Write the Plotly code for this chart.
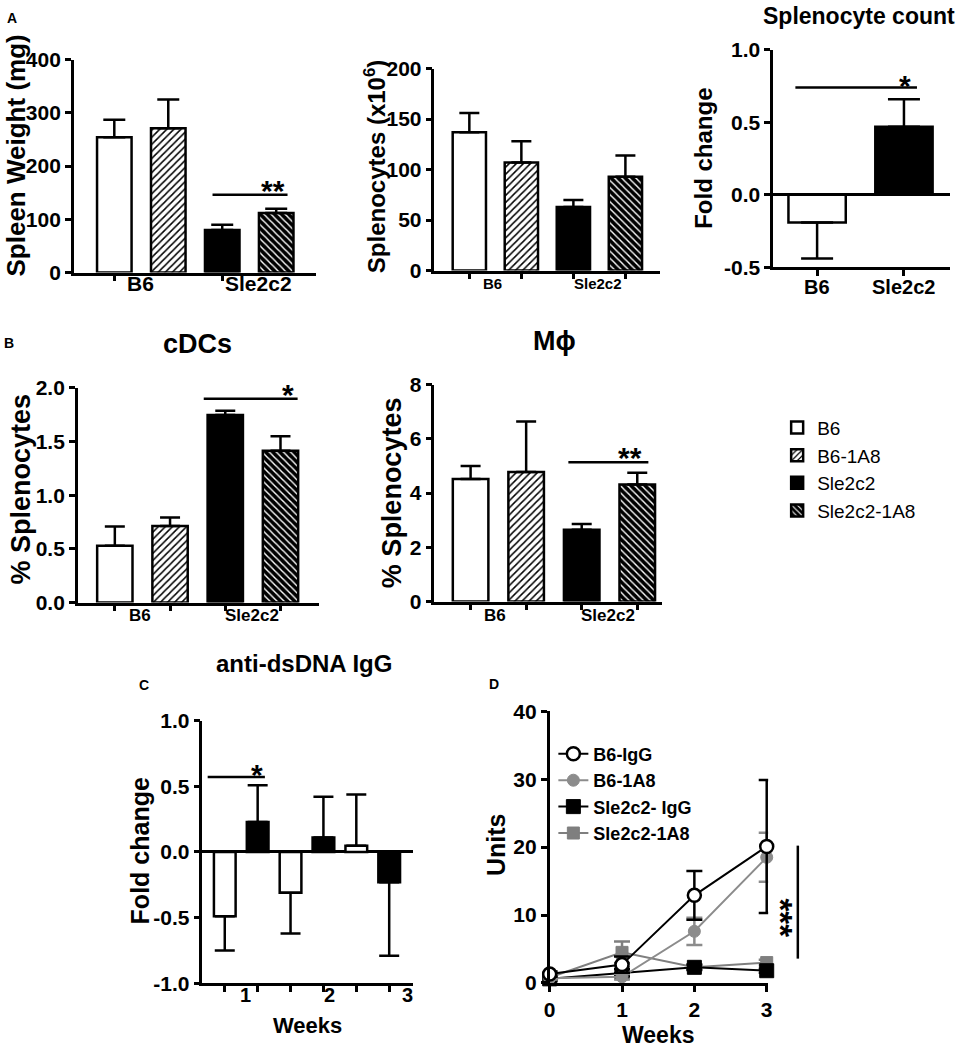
import plotly.graph_objects as go

W, H = 965, 1047
FONT = "Liberation Sans, Arial, sans-serif"

# ---------------- data ----------------
groups = ["B6", "B6-1A8", "Sle2c2", "Sle2c2-1A8"]
bar_pos = [0, 1, 2, 3]
cat_labels = ["B6", "Sle2c2"]

spleen_weight = [254, 271, 80, 112]
spleen_weight_err = [33, 54, 10, 8]

splenocytes = [137, 107, 63, 93]
splenocytes_err = [19, 21, 7, 21]

count_groups = ["B6", "Sle2c2"]
count_fold = [-0.19, 0.47]
count_fold_err = [0.25, 0.19]

cdcs = [0.53, 0.714, 1.748, 1.415]
cdcs_err = [0.18, 0.08, 0.04, 0.135]

mphi = [4.52, 4.78, 2.65, 4.32]
mphi_err = [0.48, 1.86, 0.21, 0.43]

c_weeks = ["1", "2", "3"]
c_b6 = [-0.49, -0.31, 0.048]
c_b6_err = [0.26, 0.31, 0.39]
c_sle = [0.228, 0.11, -0.23]
c_sle_err = [0.28, 0.31, 0.56]

d_weeks = [0, 1, 2, 3]
d_series = ["B6-IgG", "B6-1A8", "Sle2c2- IgG", "Sle2c2-1A8"]
d_b6_igg = [1.3, 2.7, 12.9, 20.1]
d_b6_igg_err = [0.4, 1.2, 3.6, 9.8]
d_b6_1a8 = [0.7, 0.9, 7.6, 18.5]
d_b6_1a8_err = [0.2, 0.4, 2.0, 3.6]
d_sle_igg = [0.6, 1.5, 2.3, 1.8]
d_sle_igg_err = [0.3, 0.5, 0.4, 0.3]
d_sle_1a8 = [0.8, 4.5, 2.3, 3.0]
d_sle_1a8_err = [0.3, 1.6, 0.3, 0.4]

# ---------------- helpers ----------------
# small calibration between the intended pixel layout and the photographed page
SX, OX = 0.9906, 5.1
SY, OY = 0.978, 11.4

def cx(x):
    return (x - OX) / SX

def cy(y):
    return (y - OY) / SY

def px_x(a, b):
    return [cx(a) / W, cx(b) / W]

def px_y(top, bottom):
    return [1 - cy(bottom) / H, 1 - cy(top) / H]

def px(xp, yp):
    return cx(xp) / W, 1 - cy(yp) / H

def sfx(k):
    return "" if k == 1 else str(k)

BAR_STYLE = {
    "B6": dict(color="white"),
    "B6-1A8": dict(color="white", pattern=dict(shape="/", fgcolor="black", bgcolor="white",
                                              size=5, solidity=0.3, fillmode="replace")),
    "Sle2c2": dict(color="black"),
    "Sle2c2-1A8": dict(color="black", pattern=dict(shape="\\", fgcolor="white", bgcolor="black",
                                                  size=5, solidity=0.28, fillmode="replace")),
}

fig = go.Figure()

def err_dict(v, e, capw, color="black"):
    return dict(type="data", symmetric=False,
                array=[e if v >= 0 else 0], arrayminus=[0 if v >= 0 else e],
                color=color, thickness=2.5, width=capw)

def add_bar(k, x, v, e, style_key, name, showlegend=False, width=0.64, capw=10):
    st = BAR_STYLE[style_key]
    marker = dict(color=st["color"], line=dict(color="black", width=2.5))
    if "pattern" in st:
        marker["pattern"] = st["pattern"]
    fig.add_trace(go.Bar(
        x=[x], y=[v], width=width, name=name, legendgroup=name, showlegend=showlegend,
        xaxis="x" + sfx(k), yaxis="y" + sfx(k), marker=marker,
        error_y=err_dict(v, e, capw), hoverinfo="x+y"))

for i, g in enumerate(groups):
    add_bar(1, bar_pos[i], spleen_weight[i], spleen_weight_err[i], g, g, capw=11)
for i, g in enumerate(groups):
    add_bar(2, bar_pos[i], splenocytes[i], splenocytes_err[i], g, g, capw=10)
for i, g in enumerate(count_groups):
    add_bar(3, i, count_fold[i], count_fold_err[i], g, g, width=0.66, capw=16)
for i, g in enumerate(groups):
    add_bar(4, bar_pos[i], cdcs[i], cdcs_err[i], g, g, showlegend=True, capw=10)
for i, g in enumerate(groups):
    add_bar(5, bar_pos[i], mphi[i], mphi_err[i], g, g, capw=10)
for i in range(len(c_weeks)):
    add_bar(6, 2 * i, c_b6[i], c_b6_err[i], "B6", "B6", width=0.66, capw=10)
    add_bar(6, 2 * i + 1, c_sle[i], c_sle_err[i], "Sle2c2", "Sle2c2", width=0.66, capw=10)

D_STYLE = [
    ("Sle2c2-1A8", d_sle_1a8, d_sle_1a8_err, "#7f7f7f", dict(symbol="square", size=12, color="#7f7f7f",
                                                           line=dict(color="#7f7f7f", width=1)), 4),
    ("Sle2c2- IgG", d_sle_igg, d_sle_igg_err, "black", dict(symbol="square", size=14, color="black",
                                                           line=dict(color="black", width=1)), 3),
    ("B6-1A8", d_b6_1a8, d_b6_1a8_err, "#8c8c8c", dict(symbol="circle", size=12, color="#8c8c8c",
                                                       line=dict(color="#8c8c8c", width=1)), 2),
    ("B6-IgG", d_b6_igg, d_b6_igg_err, "black", dict(symbol="circle", size=13, color="white",
                                                     line=dict(color="black", width=2.5)), 1),
]
for name, ys, es, col, mk, rank in D_STYLE:
    fig.add_trace(go.Scatter(
        x=d_weeks, y=ys, mode="lines+markers", name=name, legend="legend2",
        legendgroup="d_" + name, legendrank=rank,
        line=dict(color=col, width=2), marker=mk, cliponaxis=False,
        error_y=dict(type="data", symmetric=False, array=es, arrayminus=es,
                     color=col, thickness=2.5, width=8),
        xaxis="x7", yaxis="y7"))

# ---------------- axes ----------------
tickfont = dict(family=FONT, size=21, color="black", weight="bold")
base = dict(showline=True, linecolor="black", linewidth=2.5, ticks="outside", ticklen=6,
            tickwidth=2.5, tickcolor="black", showgrid=False, zeroline=False,
            tickfont=tickfont, fixedrange=True)

axes = {
    1: dict(xd=px_x(73, 315), yd=px_y(59, 272), xr=[-0.75, 3.73], yr=[0, 400],
            xt=[0, 2], yt=dict(tickvals=[0, 100, 200, 300, 400])),
    2: dict(xd=px_x(434, 660), yd=px_y(68, 270), xr=[-0.67, 3.67], yr=[0, 200],
            xt=bar_pos, yt=dict(tickvals=[0, 50, 100, 150, 200])),
    3: dict(xd=px_x(773, 950), yd=px_y(49.3, 266.7), xr=[-0.506, 1.53], yr=[-0.5, 1.0],
            xt=[0, 1], yt=dict(tickvals=[-0.5, 0, 0.5, 1.0], ticktext=["-0.5", "0.0", "0.5", "1.0"])),
    4: dict(xd=px_x(77, 318), yd=px_y(387.3, 602), xr=[-0.67, 3.69], yr=[0, 2],
            xt=bar_pos, yt=dict(tickvals=[0, 0.5, 1, 1.5, 2], ticktext=["0.0", "0.5", "1.0", "1.5", "2.0"])),
    5: dict(xd=px_x(434, 662), yd=px_y(384, 601), xr=[-0.65, 3.45], yr=[0, 8],
            xt=bar_pos, yt=dict(tickvals=[0, 2, 4, 6, 8])),
    6: dict(xd=px_x(201.7, 412.7), yd=px_y(720, 982.7), xr=[-0.68, 5.73], yr=[-1, 1],
            xt=[0, 1, 2, 3, 4, 5],
            yt=dict(tickvals=[-1, -0.5, 0, 0.5, 1], ticktext=["-1.0", "-0.5", "0.0", "0.5", "1.0"])),
    7: dict(xd=px_x(549.3, 768), yd=px_y(710.7, 982.3), xr=[0, 3.02], yr=[0, 40],
            xt=d_weeks, yt=dict(tickvals=[0, 10, 20, 30, 40])),
}

layout_axes = {}
for k, a in axes.items():
    xa = dict(base, domain=a["xd"], range=a["xr"], anchor="y" + sfx(k), tickvals=a["xt"])
    if k == 7:
        xa["showticklabels"] = True
        xa["ticktext"] = [str(w) for w in d_weeks]
    else:
        xa["showticklabels"] = False
    ya = dict(base, domain=a["yd"], range=a["yr"], anchor="x" + sfx(k), **a["yt"])
    if k in (3, 6):
        ya.update(zeroline=True, zerolinecolor="black", zerolinewidth=2.5)
    layout_axes["xaxis" + sfx(k)] = xa
    layout_axes["yaxis" + sfx(k)] = ya

fig.update_layout(**layout_axes)

# ---------------- annotations ----------------
ann = []

def text_px(t, xp, yp, size, bold=True, angle=0, xanchor="center", yanchor="middle"):
    x, y = px(xp, yp)
    ann.append(dict(text=t, x=x, y=y, xref="paper", yref="paper", showarrow=False,
                    textangle=angle, xanchor=xanchor, yanchor=yanchor,
                    font=dict(family=FONT, size=size, color="black",
                              weight="bold" if bold else "normal")))

text_px("A", 11, 17, 14)
text_px("B", 8, 342, 14)
text_px("C", 143, 684, 14)
text_px("D", 494, 683, 14)

text_px("Splenocyte count", 859, 15, 23)
text_px("cDCs", 197, 343, 27)
text_px("M\u03d5", 554, 340, 27)
text_px("anti-dsDNA IgG", 303, 663, 24)

text_px("Spleen Weight (mg)", 15, 155, 26, angle=-90)
text_px("Splenocytes (x10<sup>6</sup>)", 374, 166, 24, angle=-90)
text_px("Fold change", 703, 158, 24, angle=-90)
text_px("% Splenocytes", 20, 488, 27, angle=-90)
text_px("% Splenocytes", 391, 492, 27, angle=-90)
text_px("Fold change", 139, 850, 25, angle=-90)
text_px("Units", 495, 844, 25, angle=-90)

text_px("Weeks", 307, 1025, 22)
text_px("Weeks", 658, 1034, 23)

def cat_label(k, xs, labels, size, shift):
    for xv, t in zip(xs, labels):
        ann.append(dict(text=t, x=xv, y=0, xref="x" + sfx(k), yref="y" + sfx(k) + " domain",
                        showarrow=False, xanchor="center", yanchor="middle", yshift=shift,
                        font=dict(family=FONT, size=size, color="black", weight="bold")))

cat_label(1, [0.49, 2.67], cat_labels, 21, -11)
cat_label(2, [0.44, 2.48], cat_labels, 15, -13)
cat_label(3, [0, 1], count_groups, 20, -20)
cat_label(4, [0.45, 2.49], cat_labels, 17, -13)
cat_label(5, [0.44, 2.48], cat_labels, 17, -14)
cat_label(6, [0.64, 3.19, 5.56], c_weeks, 20, -12)

shapes = []
sig_lines = [  # axis, x0, x1, y
    (1, 1.82, 3.21, 146),
    (3, -0.25, 1.15, 0.74),
    (4, 1.61, 3.31, 1.90),
    (5, 1.76, 3.20, 5.14),
    (6, -0.52, 1.22, 0.57),
]
for k, x0, x1, yv in sig_lines:
    shapes.append(dict(type="line", xref="x" + sfx(k), yref="y" + sfx(k), x0=x0, x1=x1,
                       y0=yv, y1=yv, line=dict(color="black", width=2.5)))

d_sig_x, d_sig_top, d_sig_bot = 797.7, 845, 958
sx0, sy0 = px(d_sig_x, d_sig_bot)
sx1, sy1 = px(d_sig_x, d_sig_top)
shapes.append(dict(type="line", xref="paper", yref="paper", x0=sx0, x1=sx1, y0=sy0, y1=sy1,
                   line=dict(color="black", width=2.5)))

sig_stars = [  # axis, x, y, text
    (1, 2.94, 167, "**"),
    (3, 1.01, 0.80, "*"),
    (4, 3.13, 2.0, "*"),
    (5, 2.87, 5.57, "**"),
    (6, 0.99, 0.64, "*"),
]
for k, xv, yv, t in sig_stars:
    ann.append(dict(text=t, x=xv, y=yv, xref="x" + sfx(k), yref="y" + sfx(k), showarrow=False,
                    xanchor="center", yanchor="middle", yshift=-7,
                    font=dict(family=FONT, size=30, color="black", weight="bold")))
text_px("***", 780, 917, 33, angle=90)

lg1x, lg1y = px(777, 408)
lg2x, lg2y = px(553, 735)

fig.update_layout(
    width=W, height=H, margin=dict(l=0, r=0, t=0, b=0),
    paper_bgcolor="white", plot_bgcolor="white", barmode="overlay",
    annotations=ann, shapes=shapes, showlegend=True,
    font=dict(family=FONT, color="black"),
    legend=dict(x=lg1x, y=lg1y, xanchor="left", yanchor="top", bgcolor="rgba(0,0,0,0)",
                font=dict(family=FONT, size=19, color="black"), tracegroupgap=0,
                traceorder="normal"),
    legend2=dict(x=lg2x, y=lg2y, xanchor="left", yanchor="top", bgcolor="rgba(0,0,0,0)",
                 font=dict(family=FONT, size=18, color="black", weight="bold"), tracegroupgap=11,
                 traceorder="normal"),
)

fig.write_html(
    "out.html",
    config={"displayModeBar": False},
    post_script=("document.body.style.margin='0px';"
                 "document.documentElement.style.overflow='hidden';"
                 "document.body.style.overflow='hidden';"),
)
